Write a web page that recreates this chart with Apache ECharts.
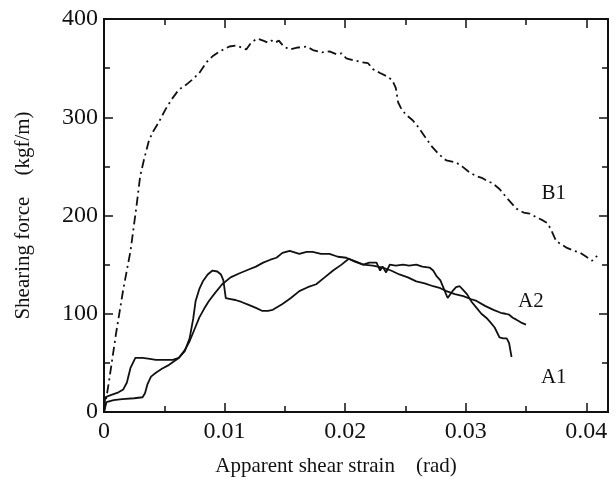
<!DOCTYPE html>
<html lang="en">
<head>
  <meta charset="UTF-8">
  <title>Shearing force vs apparent shear strain</title>
  <script src="https://cdn.jsdelivr.net/npm/echarts@6/dist/echarts.min.js"></script>
  <style>
    html, body { margin: 0; padding: 0; background: #fff; }
  </style>
</head>
<body>
<div id="main" style="width:616px;height:490px;"></div>
<script type="text/javascript">
  // A1 specimen
  var a1Strain = [0, 0.0001, 0.0005, 0.0012, 0.0016, 0.0019, 0.0022, 0.0026, 0.0032, 0.0038, 0.0043, 0.005, 0.0057, 0.0062, 0.0067, 0.0071, 0.0074, 0.0076, 0.0079, 0.0082, 0.0086, 0.009, 0.0094, 0.0097, 0.0099, 0.0101, 0.0105, 0.0109, 0.0114, 0.012, 0.0126, 0.0131, 0.0136, 0.014, 0.0148, 0.0155, 0.0162, 0.0169, 0.0176, 0.0183, 0.019, 0.0197, 0.0203, 0.0209, 0.0215, 0.022, 0.0226, 0.0229, 0.0231, 0.0234, 0.0237, 0.0242, 0.0248, 0.0253, 0.0259, 0.0264, 0.027, 0.0273, 0.0276, 0.0279, 0.0282, 0.0285, 0.0289, 0.0292, 0.0295, 0.0298, 0.0301, 0.0305, 0.0309, 0.0313, 0.0317, 0.032, 0.0324, 0.0328, 0.0331, 0.0334, 0.0336, 0.0337, 0.0338];
  var a1Force = [0, 15, 17, 20, 23, 30, 45, 55, 55, 54, 53, 53, 53, 55, 62, 75, 95, 113, 125, 133, 140, 144, 143, 140, 134, 116, 115, 114, 112, 109, 106, 103, 103, 104, 110, 116, 123, 127, 130, 137, 144, 150, 156, 153, 150, 152, 152, 144, 148, 142, 150, 149, 150, 149, 150, 148, 147, 144, 138, 134, 125, 116, 123, 127, 128, 124, 120, 112, 106, 100, 96, 92, 86, 76, 75, 75, 70, 63, 56];

  // A2 specimen
  var a2Strain = [0, 0.0002, 0.0008, 0.0015, 0.0025, 0.0032, 0.0034, 0.0036, 0.0039, 0.0043, 0.0048, 0.0054, 0.0062, 0.0067, 0.0071, 0.0075, 0.0079, 0.0083, 0.0087, 0.0092, 0.0098, 0.0105, 0.0112, 0.012, 0.0126, 0.0132, 0.0138, 0.0143, 0.0148, 0.0154, 0.0162, 0.0168, 0.0173, 0.018, 0.0187, 0.0194, 0.0201, 0.0208, 0.0215, 0.0223, 0.0231, 0.0238, 0.0245, 0.0252, 0.0259, 0.0266, 0.0273, 0.0279, 0.0284, 0.0291, 0.0298, 0.0304, 0.0309, 0.0316, 0.0323, 0.0329, 0.0333, 0.0336, 0.0339, 0.0342, 0.0346, 0.035];
  var a2Force = [0, 10, 12, 13, 14, 15, 19, 28, 36, 40, 44, 48, 55, 63, 72, 84, 96, 105, 113, 121, 130, 137, 141, 145, 148, 152, 155, 157, 162, 164, 161, 163, 163, 161, 161, 158, 157, 153, 150, 149, 147, 144, 140, 137, 133, 131, 128, 126, 123, 120, 118, 115, 113, 108, 104, 101, 100, 99, 96, 94, 91, 89];

  // B1 specimen
  var b1Strain = [0, 0.0004, 0.001, 0.0016, 0.0022, 0.0027, 0.003, 0.0033, 0.0037, 0.004, 0.0045, 0.0051, 0.0056, 0.0062, 0.0068, 0.0073, 0.0079, 0.0085, 0.009, 0.0096, 0.0104, 0.011, 0.0118, 0.0122, 0.0127, 0.0132, 0.0136, 0.0139, 0.0142, 0.0145, 0.0149, 0.0154, 0.0161, 0.0168, 0.0174, 0.0181, 0.0187, 0.0193, 0.0197, 0.0201, 0.0207, 0.0214, 0.0219, 0.0223, 0.0229, 0.0234, 0.0239, 0.0242, 0.0244, 0.0246, 0.025, 0.0256, 0.026, 0.0264, 0.0268, 0.0272, 0.0278, 0.0284, 0.0292, 0.0297, 0.0303, 0.0309, 0.0314, 0.0318, 0.0322, 0.0328, 0.0334, 0.0342, 0.0348, 0.0353, 0.0359, 0.0364, 0.0368, 0.0371, 0.0375, 0.038, 0.0384, 0.039, 0.0395, 0.04, 0.0405, 0.0409];
  var b1Force = [0, 30, 80, 125, 164, 210, 240, 256, 275, 284, 294, 308, 318, 328, 333, 338, 345, 356, 362, 367, 372, 373, 369, 376, 380, 378, 376, 378, 376, 378, 372, 369, 371, 372, 368, 366, 367, 364, 365, 360, 358, 356, 355, 349, 345, 342, 338, 330, 315, 310, 303, 297, 291, 284, 277, 270, 262, 256, 254, 250, 244, 240, 238, 235, 233, 227, 218, 207, 203, 202, 198, 195, 192, 185, 174, 170, 167, 164, 162, 158, 154, 159];

  // curve labels: [name, strain, force]
  var curveLabels = [['B1', 0.0373, 222], ['A2', 0.0354, 112], ['A1', 0.0373, 35]];

  var xTicks = [0, 0.01, 0.02, 0.03, 0.04];
  var yTicks = [0, 100, 200, 300, 400];

  function zip(xs, ys) {
    return xs.map(function (x, i) { return [x, ys[i]]; });
  }

  var serif = 'Liberation Serif';
  var ink = '#111';

  var myChart = echarts.init(document.getElementById('main'));

  function xAxisDef(pos, interval, tickLen, withLabel) {
    return {
      type: 'value',
      position: pos,
      min: 0,
      max: 0.0418,
      interval: interval,
      axisLine: { show: true, onZero: false, lineStyle: { color: ink, width: 2 } },
      axisTick: { show: true, inside: true, length: tickLen, lineStyle: { color: ink, width: 1.5 } },
      axisLabel: {
        show: withLabel,
        showMaxLabel: false,
        margin: 8,
        color: ink,
        fontFamily: serif,
        fontSize: 24,
        formatter: function (v) {
          return xTicks.indexOf(v) >= 0 ? String(v) : '';
        }
      },
      splitLine: { show: false }
    };
  }

  function yAxisDef(pos, withLabel) {
    return {
      type: 'value',
      position: pos,
      min: 0,
      max: 400,
      interval: 100,
      axisLine: { show: true, onZero: false, lineStyle: { color: ink, width: 2 } },
      axisTick: { show: true, inside: true, length: 9, lineStyle: { color: ink, width: 1.5 } },
      minorTick: { show: true, splitNumber: 2, length: 6, lineStyle: { color: ink, width: 1.5 } },
      axisLabel: {
        show: withLabel,
        margin: 6,
        color: ink,
        fontFamily: serif,
        fontSize: 24,
        formatter: function (v) {
          return yTicks.indexOf(v) >= 0 ? String(v) : '';
        }
      },
      splitLine: { show: false }
    };
  }

  var xMain = xAxisDef('bottom', 0.01, 9, true);
  xMain.name = 'Apparent shear strain    (rad)';
  xMain.nameLocation = 'middle';
  xMain.nameGap = 44;
  xMain.nameTextStyle = { fontFamily: serif, fontSize: 21, color: ink, padding: [0, 40, 0, 0] };

  var yMain = yAxisDef('left', true);
  yMain.name = 'Shearing force    (kgf/m)';
  yMain.nameLocation = 'middle';
  yMain.nameGap = 70;
  yMain.nameTextStyle = { fontFamily: serif, fontSize: 21, color: ink };

  var xMinorBottom = xAxisDef('bottom', 0.005, 6, false);
  var xTop = xAxisDef('top', 0.01, 9, false);
  var xMinorTop = xAxisDef('top', 0.005, 6, false);
  var yRight = yAxisDef('right', false);

  function lineSeries(name, data, dash, marks) {
    return {
      name: name,
      type: 'line',
      xAxisIndex: 0,
      yAxisIndex: 0,
      data: data,
      showSymbol: false,
      symbol: 'none',
      smooth: false,
      lineStyle: { color: ink, width: 1.8, type: dash },
      markPoint: marks ? {
        symbol: 'circle',
        symbolSize: 0,
        label: {
          show: true,
          position: 'inside',
          color: ink,
          fontFamily: serif,
          fontSize: 21,
          formatter: function (p) { return p.name; }
        },
        data: marks
      } : undefined,
      z: 3
    };
  }

  var labelMarks = curveLabels.map(function (c) {
    return { name: c[0], coord: [c[1], c[2]] };
  });

  var option = {
    animation: false,
    backgroundColor: '#fff',
    grid: { left: 104, right: 8, top: 19, bottom: 78 },
    xAxis: [xMain, xMinorBottom, xTop, xMinorTop],
    yAxis: [yMain, yRight],
    series: [
      lineSeries('B1', zip(b1Strain, b1Force), [9, 4, 2, 4], labelMarks),
      lineSeries('A1', zip(a1Strain, a1Force), 'solid'),
      lineSeries('A2', zip(a2Strain, a2Force), 'solid')
    ]
  };

  myChart.setOption(option);
</script>
</body>
</html>
